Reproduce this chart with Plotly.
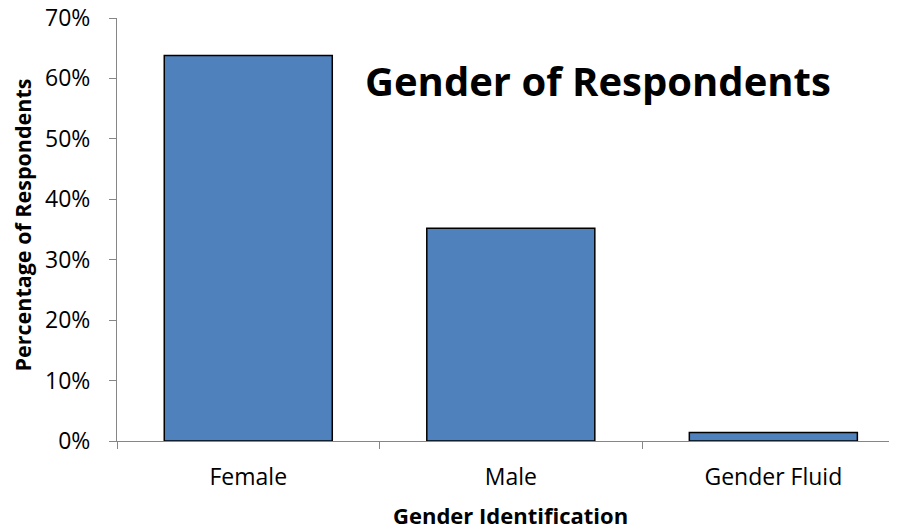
import plotly.graph_objects as go

# Survey data
categories = ["Female", "Male", "Gender Fluid"]
percentages = [0.638, 0.352, 0.014]

FONT = "Open Sans, Lato, sans-serif"

fig = go.Figure(
    data=[
        go.Bar(
            x=categories,
            y=percentages,
            width=0.64,
            marker=dict(color="#4F81BD", line=dict(color="#000000", width=1.5)),
        )
    ]
)

# Chart title sits inside the plot area
fig.add_annotation(
    text="<b>Gender of Respondents</b>",
    xref="paper", yref="paper",
    x=0.617, y=0.853,
    xanchor="center", yanchor="middle",
    showarrow=False,
    font=dict(family=FONT, size=40, color="#000000"),
)

# Axis titles as annotations so they land where the original has them
fig.add_annotation(
    text="<b>Percentage of Respondents</b>",
    xref="paper", yref="paper",
    x=-0.121, y=0.511,
    xanchor="center", yanchor="middle",
    textangle=-90,
    showarrow=False,
    font=dict(family=FONT, size=21.5, color="#000000"),
)
fig.add_annotation(
    text="<b>Gender Identification</b>",
    xref="paper", yref="paper",
    x=0.505, y=-0.175,
    xanchor="center", yanchor="middle",
    showarrow=False,
    font=dict(family=FONT, size=22, color="#000000"),
)

# page body adds an 8px margin, so the figure is a bit smaller than the window
fig.update_layout(
    width=889,
    height=523,
    margin=dict(l=109, r=0, t=10, b=90),
    plot_bgcolor="white",
    paper_bgcolor="white",
    font=dict(family=FONT, size=23, color="#000000"),
    showlegend=False,
    xaxis=dict(
        type="category",
        range=[-0.5, 2.471],
        tickson="boundaries",
        ticks="outside",
        ticklen=7,
        tickcolor="#868686",
        showline=True,
        linecolor="#868686",
        linewidth=1,
        showgrid=False,
        automargin=False,
        ticklabelstandoff=15,
        ticklabeloverflow="allow",
    ),
    yaxis=dict(
        range=[0, 0.7],
        dtick=0.1,
        tickformat=".0%",
        ticks="outside",
        ticklen=7,
        tickcolor="#868686",
        showline=True,
        linecolor="#868686",
        linewidth=1,
        showgrid=False,
        zeroline=False,
        automargin=False,
        ticklabelstandoff=14,
        ticklabeloverflow="allow",
    ),
)

fig.write_html("out.html")
